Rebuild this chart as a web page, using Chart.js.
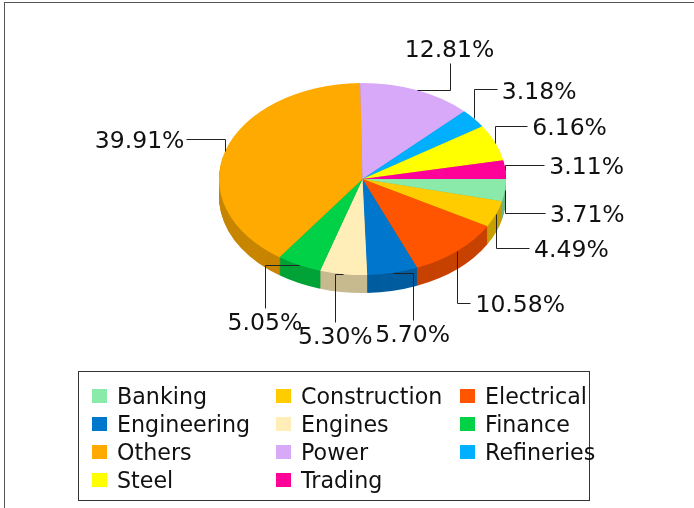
<!DOCTYPE html>
<html>
<head>
<meta charset="utf-8">
<script src="https://cdn.jsdelivr.net/npm/chart.js@4/dist/chart.umd.min.js"></script>
<style>
  body { margin: 0; background: #fff; font-family: "DejaVu Sans", Verdana, sans-serif; }
  .frame { position: absolute; left: 4px; top: 2px; width: 690px; height: 506px;
           border-left: 1px solid #555; border-top: 1px solid #555; }
  .chart-container { position: absolute; left: 0; top: 0; width: 694px; height: 508px; }
  #legend { position: absolute; left: 78px; top: 371px; width: 512px; height: 130px;
            border: 1px solid #333; box-sizing: border-box; padding: 10px 0 0 13px;
            display: grid; grid-template-columns: 184px 184px auto; grid-auto-rows: 28px; }
  .item { display: flex; align-items: center; font-size: 22.2px; color: #111; white-space: nowrap; }
  .sw { width: 15px; height: 14px; margin-right: 10px; flex: none; }
</style>
</head>
<body>
<div class="frame"></div>
<div class="chart-container">
  <canvas id="sectorChart" width="694" height="508"></canvas>
</div>
<div id="legend"></div>
<script type="text/javascript">
// data, in legend (alphabetical) order
const sectors = ["Banking", "Construction", "Electrical", "Engineering", "Engines", "Finance",
                 "Others", "Power", "Refineries", "Steel", "Trading"];
const shares = [3.71, 4.49, 10.58, 5.70, 5.30, 5.05, 39.91, 12.81, 3.18, 6.16, 3.11];
const colors = ["#8aeaa9", "#ffcc00", "#ff5500", "#0077cc", "#ffeeb8", "#00d147",
                "#ffaa00", "#d9a9f9", "#00b0ff", "#ffff00", "#ff0099"];

// callout leaders: path 'vh' = vertical then horizontal, 'hv' = horizontal then vertical
const leaders = [
  { path: "vh", dx: 40, dy: 23, align: "left" },   // Banking
  { path: "vh", dx: 33, dy: 34, align: "left" },   // Construction
  { path: "vh", dx: 13, dy: 52, align: "left" },   // Electrical
  { path: "hv", dx: 20, dy: 47, align: "below" },  // Engineering
  { path: "hv", dx: -8, dy: 48, align: "below" },  // Engines
  { path: "hv", dx: -34, dy: 43, align: "below" }, // Finance
  { path: "vh", dx: -39, dy: -12, align: "right" },// Others
  { path: "hv", dx: 33, dy: -27, align: "above" }, // Power
  { path: "vh", dx: 23, dy: -29, align: "left" },  // Refineries
  { path: "vh", dx: 32, dy: -17, align: "left" },  // Steel
  { path: "vh", dx: 39, dy: -5, align: "left" }    // Trading
];

const tilt = 0.669;
const depth = 18;

function shadeColor(hex, f) {
  const n = parseInt(hex.slice(1), 16);
  const r = Math.round(((n >> 16) & 255) * f), g = Math.round(((n >> 8) & 255) * f), b = Math.round((n & 255) * f);
  return "rgb(" + r + "," + g + "," + b + ")";
}
const sideColors = colors.map(c => shadeColor(c, 0.78));

const pie3d = {
  id: "pie3d",
  beforeDatasetsDraw(chart) {
    const ctx = chart.ctx;
    const arcs = chart.getDatasetMeta(0).data;
    const { x, y } = arcs[0];
    ctx.save();
    ctx.translate(x, y);
    ctx.scale(1, tilt);
    ctx.translate(-x, -y);
    for (let d = depth; d > 0; d--) {
      arcs.forEach((arc, i) => {
        const p = arc.getProps(["startAngle", "endAngle", "outerRadius"]);
        const cy = y + d / tilt;
        ctx.beginPath();
        ctx.moveTo(x, cy);
        ctx.arc(x, cy, p.outerRadius, p.startAngle, p.endAngle);
        ctx.closePath();
        ctx.fillStyle = sideColors[i];
        ctx.fill();
      });
    }
  },
  afterDatasetsDraw(chart) {
    const ctx = chart.ctx;
    ctx.restore();
    const arcs = chart.getDatasetMeta(0).data;
    ctx.save();
    ctx.strokeStyle = "#222";
    ctx.lineWidth = 1;
    ctx.fillStyle = "#111";
    ctx.font = "23.5px 'DejaVu Sans'";
    arcs.forEach((arc, i) => {
      const p = arc.getProps(["x", "y", "startAngle", "endAngle", "outerRadius"]);
      const mid = (p.startAngle + p.endAngle) / 2;
      const ax = p.x + p.outerRadius * Math.cos(mid);
      const ay = p.y + tilt * p.outerRadius * Math.sin(mid);
      const L = leaders[i];
      const ex = ax + L.dx, ey = ay + L.dy;
      ctx.beginPath();
      ctx.moveTo(Math.round(ax) + 0.5, Math.round(ay) + 0.5);
      if (L.path === "vh") ctx.lineTo(Math.round(ax) + 0.5, Math.round(ey) + 0.5);
      else ctx.lineTo(Math.round(ex) + 0.5, Math.round(ay) + 0.5);
      ctx.lineTo(Math.round(ex) + 0.5, Math.round(ey) + 0.5);
      ctx.stroke();
      const label = shares[i].toFixed(2) + "%";
      ctx.textBaseline = "middle";
      if (L.align === "left") { ctx.textAlign = "left"; ctx.fillText(label, ex + 5, ey + 3); }
      else if (L.align === "right") { ctx.textAlign = "right"; ctx.fillText(label, ex - 2, ey + 3); }
      else if (L.align === "below") { ctx.textAlign = "center"; ctx.fillText(label, ex, ey + 16); }
      else { ctx.textAlign = "center"; ctx.fillText(label, ex, ey - 12); }
    });
    ctx.restore();
  }
};

new Chart("sectorChart", {
  type: "pie",
  data: {
    labels: sectors,
    datasets: [{
      data: shares,
      backgroundColor: colors,
      borderWidth: 0,
      hoverOffset: 0
    }]
  },
  options: {
    responsive: false,
    animation: false,
    events: [],
    rotation: 90,
    layout: { padding: { left: 219, right: 188, top: 35.5, bottom: 185.5 } },
    plugins: { legend: { display: false }, tooltip: { enabled: false } }
  },
  plugins: [pie3d]
});

// legend box
const legendEl = document.getElementById("legend");
sectors.forEach((s, i) => {
  const item = document.createElement("div");
  item.className = "item";
  item.innerHTML = '<span class="sw" style="background:' + colors[i] + '"></span><span>' + s + '</span>';
  legendEl.appendChild(item);
});
</script>
</body>
</html>
